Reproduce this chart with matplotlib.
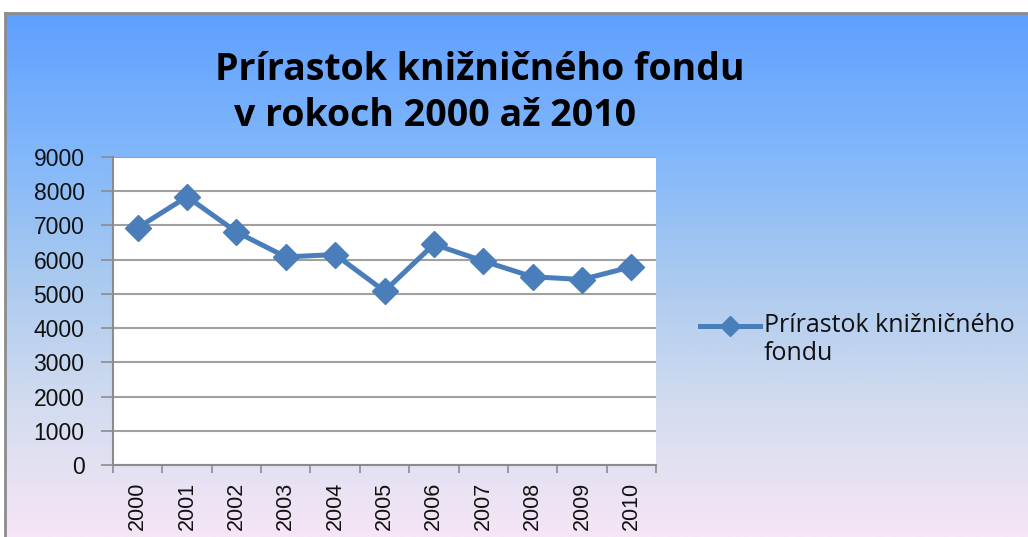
import numpy as np
import matplotlib.pyplot as plt
from matplotlib.colors import LinearSegmentedColormap

years = ['2000', '2001', '2002', '2003', '2004', '2005',
         '2006', '2007', '2008', '2009', '2010']
values = [6930, 7840, 6810, 6080, 6150, 5080, 6450, 5960, 5500, 5420, 5790]
series_name = 'Prírastok knižničného\nfondu'
title_lines = ['Prírastok knižničného fondu', 'v rokoch 2000 až 2010']

W, H = 1028, 537
fig = plt.figure(figsize=(W / 100, H / 100), dpi=100)

# gradient background with gray frame on top/left
bg = fig.add_axes([5 / W, 0, 1 - 5 / W, (H - 13) / H])
cmap = LinearSegmentedColormap.from_list(
    'bg', ['#5f9fff', '#7fb6fb', '#a9c9ef', '#d3dcef', '#f6e6f6'])
grad = np.linspace(0, 1, 256).reshape(-1, 1)
bg.imshow(grad, aspect='auto', cmap=cmap, extent=[0, 1, 0, 1], origin='upper')
bg.set_xlim(0, 1)
bg.set_ylim(0, 1)
bg.set_xticks([])
bg.set_yticks([])
for s in ['right', 'bottom']:
    bg.spines[s].set_visible(False)
for s in ['top', 'left']:
    bg.spines[s].set_color('#8c8c8c')
    bg.spines[s].set_linewidth(2)

# plot area
ax = fig.add_axes([113 / W, (H - 465) / H, (656 - 113) / W, (465 - 157) / H])
ax.set_facecolor('white')
x = np.arange(len(years))
ax.plot(x, values, color='#4a7ebb', linewidth=3.6, marker='D',
        markersize=13, label=series_name, zorder=3)
ax.set_xlim(-0.5, len(years) - 0.5)
ax.set_ylim(0, 9000)
ax.set_yticks(range(0, 9001, 1000))
ax.set_yticklabels([str(v) for v in range(0, 9001, 1000)],
                   fontsize=16.5, family='Liberation Sans', color='#111111')
ax.set_xticks(x)
ax.set_xticklabels(years, rotation=90, fontsize=15.5, family='Liberation Sans',
                   color='#111111')
ax.set_xticks(np.arange(-0.5, len(years)), minor=True)
ax.tick_params(axis='x', which='major', length=0, pad=12)
ax.tick_params(axis='x', which='minor', length=6, color='#8c8c8c', width=1.2)
ax.tick_params(axis='y', length=8.5, color='#8c8c8c', width=1.2, pad=12)
ax.grid(axis='y', color='#a0a0a0', linewidth=1.5)
ax.set_axisbelow(True)
for s in ['top', 'right']:
    ax.spines[s].set_visible(False)
for s in ['left', 'bottom']:
    ax.spines[s].set_color('#8c8c8c')
    ax.spines[s].set_linewidth(1.5)

fig.text(480 / W, 1 - 80 / H, title_lines[0], ha='center', va='baseline',
         fontsize=27, fontweight='bold', family='Open Sans')
fig.text(435 / W, 1 - 126 / H, title_lines[1], ha='center', va='baseline',
         fontsize=27, fontweight='bold', family='Open Sans')

# tall handle box lifts the legend line up to the first text line
leg = fig.legend(loc='center left', bbox_to_anchor=(700 / W, 1 - 343 / H),
                 frameon=False, prop={'family': 'Open Sans', 'size': 18},
                 handlelength=2.4, handleheight=4.7, handletextpad=0.15,
                 borderpad=0, borderaxespad=0, markerscale=0.75)
for t in leg.get_texts():
    t.set_color('#111111')
    t.set_linespacing(1.15)

fig.savefig('out.png', dpi=100)
